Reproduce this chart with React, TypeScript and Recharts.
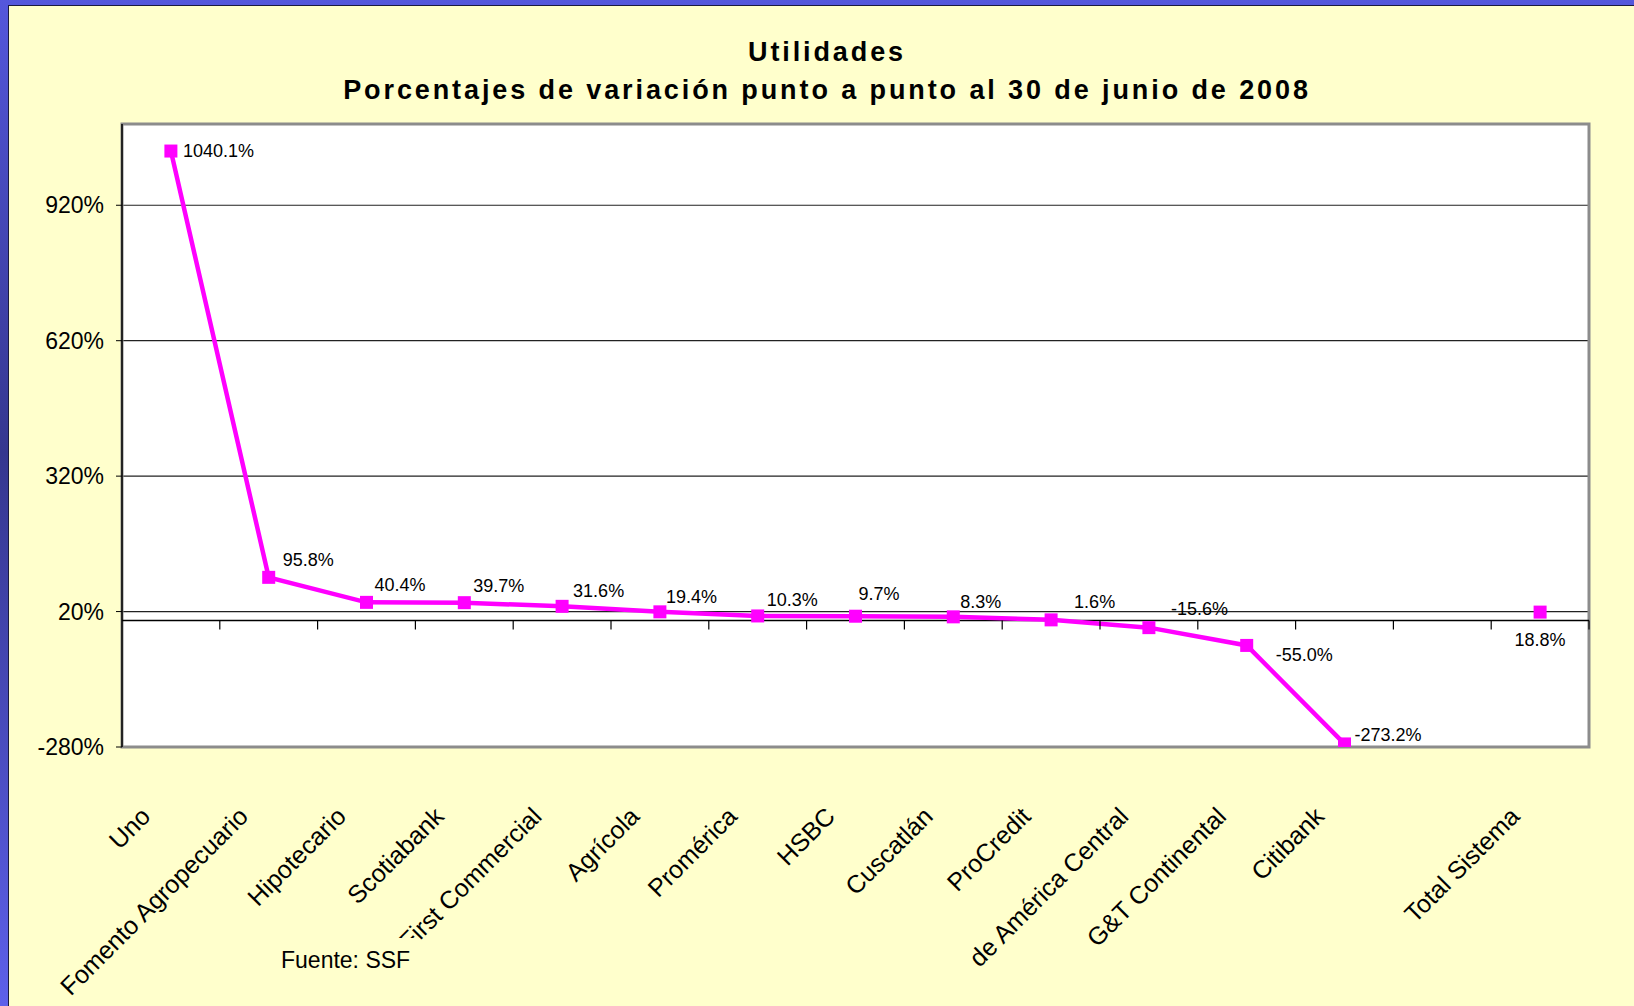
import React from "react";
import {
  CartesianGrid,
  LabelList,
  Line,
  LineChart,
  ReferenceArea,
  ReferenceDot,
  ReferenceLine,
  XAxis,
  YAxis,
} from "recharts";

// bancos (one empty slot before the system total, as in the original chart)
const categories = [
  "Uno",
  "Fomento Agropecuario",
  "Hipotecario",
  "Scotiabank",
  "First Commercial",
  "Agrícola",
  "Promérica",
  "HSBC",
  "Cuscatlán",
  "ProCredit",
  "de América Central",
  "G&T Continental",
  "Citibank",
  "",
  "Total Sistema",
];

const variation = [
  1040.1, 95.8, 40.4, 39.7, 31.6, 19.4, 10.3, 9.7, 8.3, 1.6, -15.6, -55.0,
  -273.2, null, 18.8,
];

const yTicks = [-280, 20, 320, 620, 920];
const yDomain = [-280, 1100];

// where each data label sits relative to its marker
const labelPlacement = [
  { dx: 12, dy: 0, anchor: "start" },
  { dx: 14, dy: -17, anchor: "start" },
  { dx: 8, dy: -17, anchor: "start" },
  { dx: 9, dy: -17, anchor: "start" },
  { dx: 11, dy: -15, anchor: "start" },
  { dx: 6, dy: -15, anchor: "start" },
  { dx: 9, dy: -16, anchor: "start" },
  { dx: 3, dy: -22, anchor: "start" },
  { dx: 7, dy: -15, anchor: "start" },
  { dx: 23, dy: -18, anchor: "start" },
  { dx: 22, dy: -19, anchor: "start" },
  { dx: 29, dy: 10, anchor: "start" },
  { dx: 10, dy: -9, anchor: "start" },
  { dx: 0, dy: 0, anchor: "start" },
  { dx: 0, dy: 28, anchor: "middle" },
];

const data = categories.map((name, i) => ({
  name,
  pos: i + 0.5,
  value: variation[i],
}));

const tickPositions = data.map((d) => d.pos);
const boundaries = categories.map((_, i) => i + 1);

const FONT = "'Liberation Sans', Arial, sans-serif";
const MAGENTA = "#FF00FF";

const CategoryTick = (props: any) => {
  const { x, y, payload } = props;
  const label = categories[Math.floor(payload.value)];
  return (
    <text
      transform={`translate(${x - 19},${y + 71}) rotate(-45)`}
      textAnchor="end"
      fontSize={25}
      fontFamily={FONT}
      fill="#000"
    >
      {label}
    </text>
  );
};

const SquareDot = (props: any) => {
  const { cx, cy, value } = props;
  if (value == null || cx == null) return null;
  return <rect x={cx - 6.5} y={cy - 6.5} width={13} height={13} fill={MAGENTA} />;
};

const PointLabel = (props: any) => {
  const { x, y, value } = props;
  if (value == null) return null;
  const idx = props.index ?? variation.indexOf(value);
  const p = labelPlacement[idx] || labelPlacement[0];
  return (
    <text
      x={x + p.dx}
      y={y + p.dy}
      textAnchor={p.anchor as any}
      dominantBaseline="central"
      fontSize={18}
      fontFamily={FONT}
      fill="#000"
    >
      {Number(value).toFixed(1)}%
    </text>
  );
};

const AxisTickMark = (props: any) => {
  const { cx, cy } = props;
  return <line x1={cx} y1={cy} x2={cx} y2={cy + 9} stroke="#000" strokeWidth={1.2} />;
};

export default function App() {
  return (
    <div
      style={{
        position: "absolute",
        left: 0,
        top: 0,
        width: 1634,
        height: 1006,
        overflow: "hidden",
        background: "linear-gradient(180deg, #5457dc 0%, #35378f 45%, #5d60ea 100%)",
        fontFamily: FONT,
      }}
    >
      <div
        style={{
          position: "absolute",
          left: 8,
          top: 5,
          right: 0,
          bottom: 0,
          background: "#FFFFCC",
          borderLeft: "1px solid #1a1a40",
          borderTop: "1px solid #1a1a40",
        }}
      />
      <div
        style={{
          position: "absolute",
          left: 20,
          width: 1614,
          top: 33,
          textAlign: "center",
          fontWeight: "bold",
          fontSize: 27,
          lineHeight: "38px",
          letterSpacing: 2.9,
          color: "#000",
        }}
      >
        <div>Utilidades</div>
        <div>Porcentajes de variación punto a punto al 30 de junio de 2008</div>
      </div>
      <div style={{ position: "absolute", left: 0, top: 0 }}>
        <LineChart
          width={1634}
          height={1006}
          data={data}
          margin={{ top: 124, right: 45, left: 0, bottom: 0 }}
        >
          <CartesianGrid
            vertical={false}
            stroke="#222"
            strokeWidth={1.2}
            fill="#fff"
            fillOpacity={1}
          />
          <ReferenceArea
            x1={0}
            x2={categories.length}
            y1={yDomain[0]}
            y2={yDomain[1]}
            fill="none"
            stroke="#8c8c8c"
            strokeWidth={3}
          />
          <XAxis
            type="number"
            dataKey="pos"
            domain={[0, categories.length]}
            ticks={tickPositions}
            interval={0}
            axisLine={false}
            tickLine={false}
            tickSize={0}
            tickMargin={0}
            height={259}
            tick={<CategoryTick />}
          />
          <YAxis
            type="number"
            domain={yDomain}
            ticks={yTicks}
            interval={0}
            width={122}
            tickSize={6}
            tickMargin={12}
            tickFormatter={(v: number) => `${v}%`}
            axisLine={{ stroke: "#000", strokeWidth: 1.5 }}
            tickLine={{ stroke: "#000" }}
            tick={{ fontSize: 23, fill: "#000", fontFamily: FONT }}
            allowDataOverflow
          />
          <ReferenceLine y={0} stroke="#000" strokeWidth={1.5} />
          {boundaries.map((b) => (
            <ReferenceDot
              key={b}
              x={b}
              y={0}
              r={0}
              shape={<AxisTickMark />}
            />
          ))}
          <Line
            type="linear"
            dataKey="value"
            stroke={MAGENTA}
            strokeWidth={4.5}
            dot={<SquareDot />}
            activeDot={false}
            connectNulls={false}
            isAnimationActive={false}
          >
            <LabelList dataKey="value" content={<PointLabel />} />
          </Line>
        </LineChart>
      </div>
      <div
        style={{
          position: "absolute",
          left: 270,
          top: 938,
          width: 150,
          height: 44,
          background: "#FFFFCC",
          fontSize: 23,
          lineHeight: "44px",
          paddingLeft: 11,
          boxSizing: "border-box",
          color: "#000",
        }}
      >
        Fuente: SSF
      </div>
    </div>
  );
}
